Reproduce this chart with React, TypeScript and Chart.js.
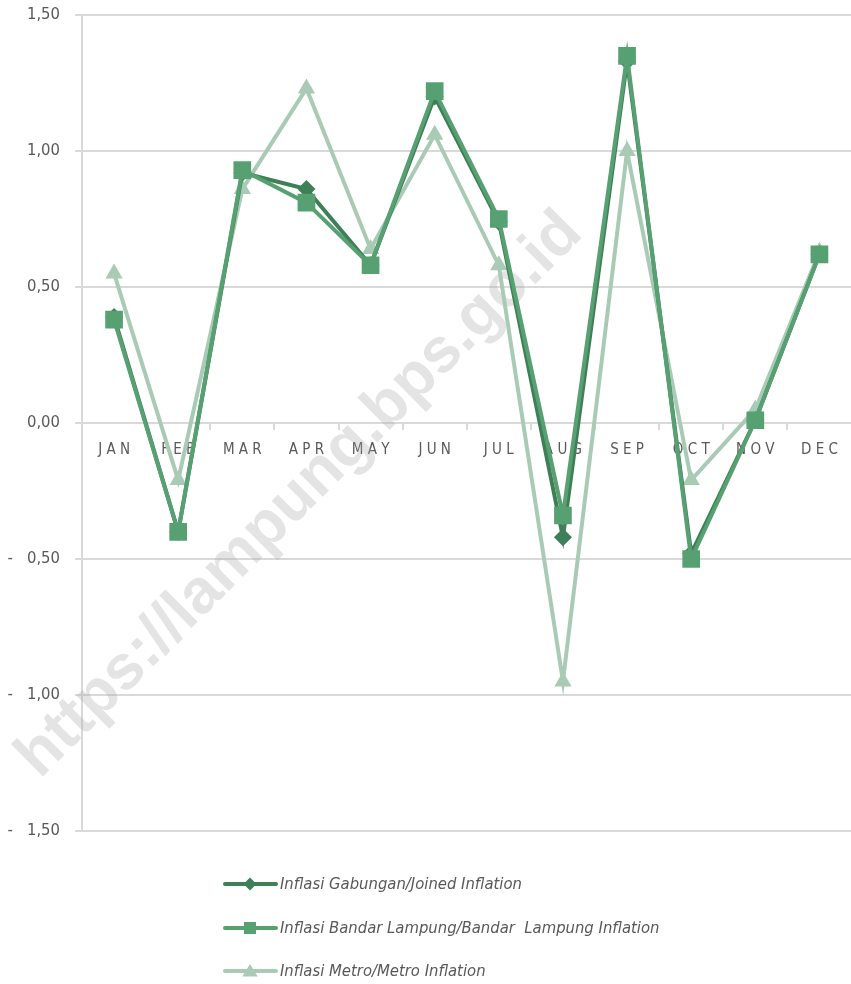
import React, { useEffect, useRef } from "react";
import { Chart, registerables } from "chart.js";

Chart.register(...registerables);

const MONTHS = ["JAN", "FEB", "MAR", "APR", "MAY", "JUN", "JUL", "AUG", "SEP", "OCT", "NOV", "DEC"];
const GABUNGAN = [0.39, -0.4, 0.92, 0.86, 0.58, 1.2, 0.74, -0.42, 1.33, -0.48, 0.01, 0.62];
const BANDAR_LAMPUNG = [0.38, -0.4, 0.93, 0.81, 0.58, 1.22, 0.75, -0.34, 1.35, -0.5, 0.01, 0.62];
const METRO = [0.55, -0.21, 0.86, 1.23, 0.64, 1.06, 0.58, -0.95, 1.0, -0.21, 0.05, 0.63];
const SERIES_NAMES = [
  "Inflasi Gabungan/Joined Inflation",
  "Inflasi Bandar Lampung/Bandar  Lampung Inflation",
  "Inflasi Metro/Metro Inflation",
];
const WATERMARK = "https://lampung.bps.go.id";

const C_GAB = "#3e7f57";
const C_BDL = "#57a072";
const C_MET = "#a9cbb6";
const TEXT = "#595959";
const GRID = "#d9d9d9";
const FONT = '"Liberation Sans Narrow", "DejaVu Sans Condensed", "Roboto Condensed", sans-serif';

function drawMarker(ctx: CanvasRenderingContext2D, style: string, x: number, y: number, r: number, color: string) {
  ctx.fillStyle = color;
  ctx.beginPath();
  if (style === "diamond") {
    ctx.moveTo(x, y - r);
    ctx.lineTo(x + r, y);
    ctx.lineTo(x, y + r);
    ctx.lineTo(x - r, y);
  } else if (style === "square") {
    ctx.rect(x - r, y - r, 2 * r, 2 * r);
  } else {
    ctx.moveTo(x, y - r);
    ctx.lineTo(x + r * 1.1, y + r * 0.8);
    ctx.lineTo(x - r * 1.1, y + r * 0.8);
  }
  ctx.closePath();
  ctx.fill();
}

const watermarkPlugin = {
  id: "watermark",
  beforeDatasetsDraw(chart: any) {
    const ctx = chart.ctx as CanvasRenderingContext2D;
    ctx.save();
    ctx.translate(300, 495);
    ctx.rotate(-Math.PI / 4);
    ctx.font = 'bold 60px "Liberation Sans", Arial, sans-serif';
    const w = ctx.measureText(WATERMARK).width;
    const size = (60 * 770) / w;
    ctx.font = `bold ${size}px "Liberation Sans", Arial, sans-serif`;
    ctx.fillStyle = "rgba(170,170,170,0.32)";
    ctx.textAlign = "center";
    ctx.textBaseline = "middle";
    ctx.fillText(WATERMARK, 0, 0);
    ctx.restore();
  },
};

const legendPlugin = {
  id: "customLegend",
  afterDraw(chart: any) {
    const ctx = chart.ctx as CanvasRenderingContext2D;
    const items = [
      { name: SERIES_NAMES[0], color: C_GAB, style: "diamond", r: 6.5, y: 884 },
      { name: SERIES_NAMES[1], color: C_BDL, style: "square", r: 6, y: 928 },
      { name: SERIES_NAMES[2], color: C_MET, style: "triangle", r: 7, y: 971 },
    ];
    ctx.save();
    for (const it of items) {
      ctx.strokeStyle = it.color;
      ctx.lineWidth = 4;
      ctx.lineCap = "round";
      ctx.beginPath();
      ctx.moveTo(225, it.y);
      ctx.lineTo(276, it.y);
      ctx.stroke();
      drawMarker(ctx, it.style, 250, it.y, it.r, it.color);
      ctx.font = `italic 16.5px ${FONT}`;
      ctx.fillStyle = TEXT;
      ctx.textAlign = "left";
      ctx.textBaseline = "middle";
      ctx.fillText(it.name, 280, it.y + 1);
    }
    ctx.restore();
  },
};

function fmt(v: number): string {
  const s = Math.abs(v).toFixed(2).replace(".", ",");
  if (v < -1e-9) return "-   " + s;
  return s;
}

const CANVAS_W = 864;

export default function App() {
  const ref = useRef<HTMLCanvasElement>(null);
  useEffect(() => {
    document.body.style.margin = "0";
    const canvas = ref.current!;
    const chart = new Chart(canvas, {
      type: "line",
      data: {
        labels: MONTHS,
        datasets: [
          {
            label: SERIES_NAMES[0],
            data: GABUNGAN,
            borderColor: C_GAB,
            backgroundColor: C_GAB,
            borderWidth: 4,
            pointStyle: "rectRot",
            pointRadius: 9,
            pointBorderWidth: 0,
            order: 1,
          },
          {
            label: SERIES_NAMES[1],
            data: BANDAR_LAMPUNG,
            borderColor: C_BDL,
            backgroundColor: C_BDL,
            borderWidth: 4,
            pointStyle: "rect",
            pointRadius: 12.5,
            pointBorderWidth: 0,
            order: 0,
          },
          {
            label: SERIES_NAMES[2],
            data: METRO,
            borderColor: C_MET,
            backgroundColor: C_MET,
            borderWidth: 4,
            pointStyle: "triangle",
            pointRadius: 10,
            pointBorderWidth: 0,
            order: 2,
          },
        ],
      },
      options: {
        animation: false,
        responsive: false,
        layout: { padding: { top: 15, bottom: 153, left: 0, right: 0 } },
        plugins: { legend: { display: false }, tooltip: { enabled: false } },
        elements: { line: { tension: 0 } },
        scales: {
          x: {
            position: { y: 0 } as any,
            offset: true,
            afterFit: (scale: any) => {
              scale.paddingLeft = 0;
              scale.paddingRight = 0;
            },
            grid: {
              drawOnChartArea: false,
              drawTicks: true,
              tickLength: 6,
              color: GRID,
              lineWidth: 2,
              offset: true,
            },
            border: { display: true, color: GRID, width: 2 },
            ticks: {
              padding: 12,
              color: TEXT,
              font: { family: FONT, size: 15 },
              maxRotation: 0,
              autoSkip: false,
              callback: (_v: any, i: number) => MONTHS[i].split("").join(" "),
            },
          },
          y: {
            min: -1.5,
            max: 1.5,
            afterFit: (scale: any) => {
              scale.width = 82;
              scale.paddingTop = 0;
              scale.paddingBottom = 0;
            },
            grid: { color: GRID, lineWidth: 2, tickLength: 7 },
            border: { display: true, color: GRID, width: 2 },
            ticks: {
              stepSize: 0.5,
              padding: 15,
              color: TEXT,
              font: { family: FONT, size: 16.5 },
              callback: (v: any) => fmt(Number(v)),
            },
          },
        },
      },
      plugins: [watermarkPlugin, legendPlugin],
    });
    return () => chart.destroy();
  }, []);
  return (
    <div style={{ width: 851, height: 984, overflow: "hidden" }}>
      <canvas ref={ref} width={CANVAS_W} height={984} style={{ display: "block" }} />
    </div>
  );
}
